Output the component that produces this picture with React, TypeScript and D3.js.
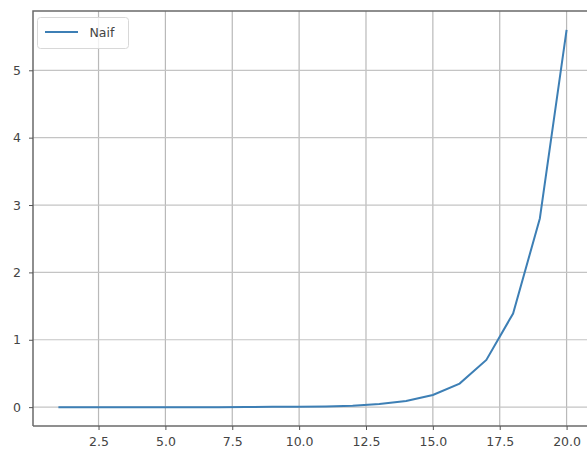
import React, { useEffect, useRef } from "react";
import * as d3 from "d3";

const nValues = [1, 2, 3, 4, 5, 6, 7, 8, 9, 10, 11, 12, 13, 14, 15, 16, 17, 18, 19, 20];
const timeValues = [
  0.0, 0.0, 0.0, 0.0, 0.0, 0.0, 0.0, 0.002, 0.004, 0.006,
  0.011, 0.022, 0.045, 0.09, 0.18, 0.35, 0.7, 1.39, 2.8, 5.6,
];
const xTicks = [2.5, 5.0, 7.5, 10.0, 12.5, 15.0, 17.5, 20.0];
const yTicks = [0, 1, 2, 3, 4, 5];
const seriesName = "Naif";

const App = () => {
  const svgRef = useRef<SVGSVGElement>(null);

  useEffect(() => {
    const width = 587;
    const height = 452;
    const margin = { top: 11, right: -5, bottom: 26, left: 33 };

    const svg = d3.select(svgRef.current);
    svg.selectAll("*").remove();

    const x = d3.scaleLinear().domain([0.05, 20.95]).range([margin.left, width - margin.right]);
    const y = d3.scaleLinear().domain([-0.28, 5.88]).range([height - margin.bottom, margin.top]);

    const grid = svg.append("g");
    grid
      .selectAll("line.vx")
      .data(xTicks)
      .enter()
      .append("line")
      .attr("x1", (d) => x(d))
      .attr("x2", (d) => x(d))
      .attr("y1", y(-0.28))
      .attr("y2", y(5.88))
      .attr("stroke", "#b9b9b9")
      .attr("stroke-width", 1.2);
    grid
      .selectAll("line.hy")
      .data(yTicks)
      .enter()
      .append("line")
      .attr("x1", x(0.05))
      .attr("x2", width)
      .attr("y1", (d) => y(d))
      .attr("y2", (d) => y(d))
      .attr("stroke", "#c4c4c4")
      .attr("stroke-width", 1.2);

    const line = d3
      .line<number>()
      .x((_, i) => x(nValues[i]))
      .y((d) => y(d));

    svg
      .append("path")
      .datum(timeValues)
      .attr("fill", "none")
      .attr("stroke", "#3d7fb5")
      .attr("stroke-width", 2)
      .attr("d", line);

    // spines
    svg
      .append("path")
      .attr("d", `M${x(0.05)},${y(-0.28)}V${y(5.88)}H${width}`)
      .attr("fill", "none")
      .attr("stroke", "#6a6a6a")
      .attr("stroke-width", 1.5);
    svg
      .append("line")
      .attr("x1", x(0.05))
      .attr("x2", width)
      .attr("y1", y(-0.28))
      .attr("y2", y(-0.28))
      .attr("stroke", "#6a6a6a")
      .attr("stroke-width", 1.5);

    const xAxis = svg
      .append("g")
      .attr("transform", `translate(0,${y(-0.28)})`)
      .call(d3.axisBottom(x).tickValues(xTicks).tickFormat(d3.format(".1f")).tickSize(4).tickPadding(7));
    const yAxis = svg
      .append("g")
      .attr("transform", `translate(${x(0.05)},0)`)
      .call(d3.axisLeft(y).tickValues(yTicks).tickFormat(d3.format("d")).tickSize(4).tickPadding(8));

    [xAxis, yAxis].forEach((a) => {
      a.select(".domain").remove();
      a.selectAll(".tick line").attr("stroke", "#555");
      a.selectAll(".tick text")
        .attr("fill", "#444")
        .style("font-family", "DejaVu Sans, sans-serif")
        .style("font-size", "12.5px");
    });

    // legend
    const lg = svg.append("g").attr("transform", `translate(${x(0.05) + 4.5},${y(5.88) + 6.5})`);
    lg.append("rect")
      .attr("width", 91)
      .attr("height", 31)
      .attr("rx", 3)
      .attr("fill", "#fff")
      .attr("fill-opacity", 0.8)
      .attr("stroke", "#d8d8d8");
    lg.append("line")
      .attr("x1", 7.5)
      .attr("x2", 40.5)
      .attr("y1", 14.5)
      .attr("y2", 14.5)
      .attr("stroke", "#3d7fb5")
      .attr("stroke-width", 2);
    lg.append("text")
      .attr("x", 52)
      .attr("y", 19)
      .attr("fill", "#444")
      .style("font-family", "DejaVu Sans, sans-serif")
      .style("font-size", "12.5px")
      .text(seriesName);
  }, []);

  return (
    <svg
      ref={svgRef}
      width={587}
      height={452}
      style={{ position: "absolute", left: 0, top: 0, background: "#fff" }}
    />
  );
};

export default App;
